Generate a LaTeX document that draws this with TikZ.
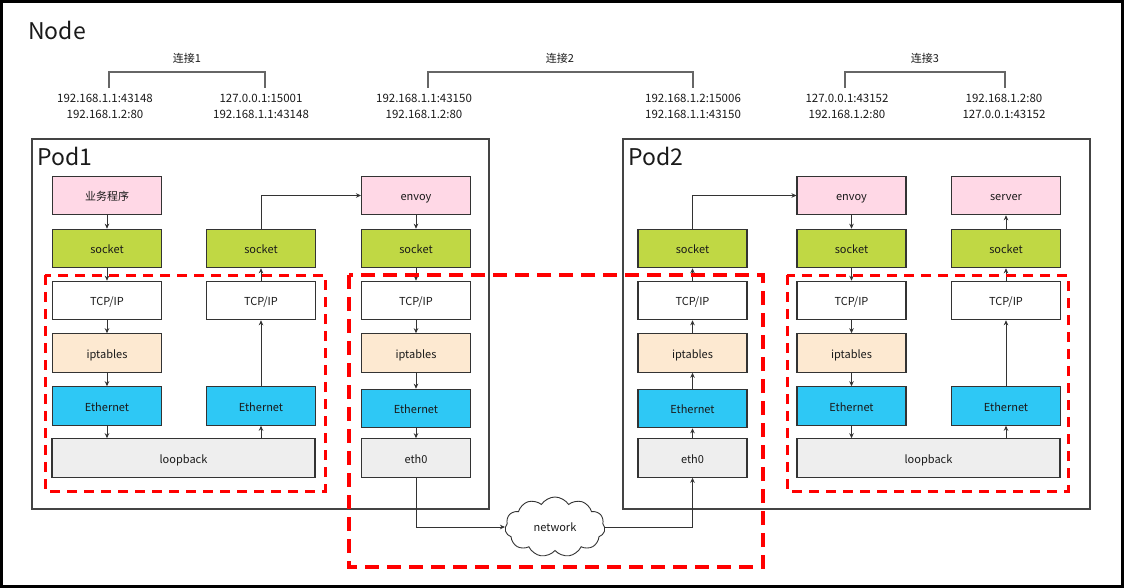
\documentclass[tikz,border=0pt]{standalone}
\usepackage{fontspec}
\setmainfont{Noto Sans CJK SC}
\usetikzlibrary{arrows.meta,shapes.symbols}
\definecolor{cpink}{HTML}{FFD8E6}
\definecolor{cgreen}{HTML}{C0D844}
\definecolor{cipt}{HTML}{FDE9D1}
\definecolor{ceth}{HTML}{2EC8F5}
\definecolor{clo}{HTML}{EEEEEE}
\definecolor{cline}{HTML}{333333}
\definecolor{ctext}{HTML}{1A1A1A}
\definecolor{cred}{HTML}{FF0000}
\definecolor{cpod}{HTML}{444444}
\definecolor{cbr}{HTML}{666666}
\begin{document}
\begin{tikzpicture}[x=1pt,y=-1pt,
  box/.style={draw=cline,line width=1.1pt,minimum width=109pt,minimum height=38.5pt,inner sep=0pt,text height=10pt,text depth=0pt,font=\fontsize{11}{13}\selectfont,text=ctext},
  app/.style={box,fill=cpink},
  sock/.style={box,fill=cgreen},
  tcp/.style={box,fill=white},
  ipt/.style={box,fill=cipt},
  eth/.style={box,fill=ceth},
  lo/.style={box,fill=clo},
  arr/.style={draw=cline,line width=0.9pt,-{Stealth[length=5pt,width=4.5pt]}},
  podbox/.style={draw=cpod,line width=2pt,fill=white,inner sep=0pt},
  big/.style={font=\fontsize{23}{26}\selectfont,text=ctext,inner sep=0pt,anchor=base west},
  addr/.style={font=\fontsize{11.5}{16}\selectfont,align=center,text=ctext,inner sep=0pt},
  conn/.style={font=\fontsize{11}{13}\selectfont,text=ctext,inner sep=0pt},
  bracket/.style={draw=cbr,line width=1.3pt},
  redbox/.style={draw=cred,line width=3pt,dash pattern=on 10pt off 7pt},
  redboxw/.style={draw=cred,line width=4pt,dash pattern=on 14pt off 8pt}
]
\fill[white] (0,0) rectangle (1124,588);
\useasboundingbox (0,0) rectangle (1124,588);
\draw[line width=3pt] (1.5,1.5) rectangle (1122.5,586.5);

\node[big] (nodelbl) at (28,40) {Node};

% connection labels and addresses
\node[conn] (c1) at (187,58) {连接1};
\node[conn] (c2) at (560,58) {连接2};
\node[conn] (c3) at (925,58) {连接3};

\node[addr] (a11) at (105,106.5) {192.168.1.1:43148\\192.168.1.2:80};
\node[addr] (a12) at (261,106.5) {127.0.0.1:15001\\192.168.1.1:43148};
\node[addr] (a21) at (424,106.5) {192.168.1.1:43150\\192.168.1.2:80};
\node[addr] (a22) at (693,106.5) {192.168.1.2:15006\\192.168.1.1:43150};
\node[addr] (a31) at (847,106.5) {127.0.0.1:43152\\192.168.1.2:80};
\node[addr] (a32) at (1004,106.5) {192.168.1.2:80\\127.0.0.1:43152};

\coordinate (b1l) at (109,88); \coordinate (b1r) at (265,88);
\coordinate (b2l) at (428,88); \coordinate (b2r) at (693,88);
\coordinate (b3l) at (845,88); \coordinate (b3r) at (1005,88);
\draw[bracket] (b1l) -- ++(0,-16) -| (b1r);
\draw[bracket] (b2l) -- ++(0,-16) -| (b2r);
\draw[bracket] (b3l) -- ++(0,-16) -| (b3r);

% pods
\node[podbox,minimum width=457pt,minimum height=370pt] (pod1) at (260.5,324) {};
\node[podbox,minimum width=467pt,minimum height=370pt] (pod2) at (856.5,324) {};
\node[big] (pod1lbl) at (37,166) {Pod1};
\node[big] (pod2lbl) at (628,166) {Pod2};

% Pod1 column A
\node[app]  (app1) at (107,195.5) {业务程序};
\node[sock] (s1a)  at (107,248.5) {socket};
\node[tcp]  (t1a)  at (107,300.5) {TCP/IP};
\node[ipt]  (i1a)  at (107,353)   {iptables};
\node[eth]  (e1a)  at (107,406)   {Ethernet};
\node[lo,minimum width=263pt] (lo1) at (183.5,458) {loopback};
% Pod1 column B
\node[sock] (s1b)  at (261,248.5) {socket};
\node[tcp]  (t1b)  at (261,300.5) {TCP/IP};
\node[eth]  (e1b)  at (261,406)   {Ethernet};
% Pod1 column C
\node[app]  (env1) at (416,195.5) {envoy};
\node[sock] (s1c)  at (416,248.5) {socket};
\node[tcp]  (t1c)  at (416,300.5) {TCP/IP};
\node[ipt]  (i1c)  at (416,353)   {iptables};
\node[eth]  (e1c)  at (416,408.5) {Ethernet};
\node[lo]   (eth01) at (416,458)  {eth0};

% Pod2 column A
\node[sock] (s2a)  at (692.5,248.5) {socket};
\node[tcp]  (t2a)  at (692.5,300.5) {TCP/IP};
\node[ipt]  (i2a)  at (692.5,353)   {iptables};
\node[eth]  (e2a)  at (692.5,408.5) {Ethernet};
\node[lo]   (eth02) at (692.5,458)  {eth0};
% Pod2 column B
\node[app]  (env2) at (851.5,195.5) {envoy};
\node[sock] (s2b)  at (851.5,248.5) {socket};
\node[tcp]  (t2b)  at (851.5,300.5) {TCP/IP};
\node[ipt]  (i2b)  at (851.5,353)   {iptables};
\node[eth]  (e2b)  at (851.5,406)   {Ethernet};
\node[lo,minimum width=263pt] (lo2) at (928.5,458) {loopback};
% Pod2 column C
\node[app]  (srv)  at (1006,195.5) {server};
\node[sock] (s2c)  at (1006,248.5) {socket};
\node[tcp]  (t2c)  at (1006,300.5) {TCP/IP};
\node[eth]  (e2c)  at (1006,406)   {Ethernet};

% network cloud
\node[cloud,cloud puffs=11,cloud puff arc=115,aspect=1.7,draw=cline,line width=0.9pt,fill=white,
      minimum width=100pt,minimum height=60pt,inner sep=0pt,text height=8pt,text depth=0pt,font=\fontsize{11}{13}\selectfont,text=ctext] (net) at (555,527) {network};

% Pod1 arrows
\draw[arr] (app1) -- (s1a);
\draw[arr] (s1a) -- (t1a);
\draw[arr] (t1a) -- (i1a);
\draw[arr] (i1a) -- (e1a);
\draw[arr] (e1a.south) -- (e1a.south |- lo1.north);
\draw[arr] (lo1.north -| e1b.south) -- (e1b.south);
\draw[arr] (e1b) -- (t1b);
\draw[arr] (t1b) -- (s1b);
\draw[arr] (s1b.north) |- (env1.west);
\draw[arr] (env1) -- (s1c);
\draw[arr] (s1c) -- (t1c);
\draw[arr] (t1c) -- (i1c);
\draw[arr] (i1c) -- (e1c);
\draw[arr] (e1c) -- (eth01);
\draw[arr] (eth01.south) |- (net.west);
\draw[arr] (net.east) -| (eth02.south);

% Pod2 arrows
\draw[arr] (eth02) -- (e2a);
\draw[arr] (e2a) -- (i2a);
\draw[arr] (i2a) -- (t2a);
\draw[arr] (t2a) -- (s2a);
\draw[arr] (s2a.north) |- (env2.west);
\draw[arr] (env2) -- (s2b);
\draw[arr] (s2b) -- (t2b);
\draw[arr] (t2b) -- (i2b);
\draw[arr] (i2b) -- (e2b);
\draw[arr] (e2b.south) -- (e2b.south |- lo2.north);
\draw[arr] (lo2.north -| e2c.south) -- (e2c.south);
\draw[arr] (e2c) -- (t2c);
\draw[arr] (t2c) -- (s2c);
\draw[arr] (s2c) -- (srv);

% red dashed groups
\draw[redbox] (45,275) rectangle (325,491);
\draw[redboxw] (349,275) rectangle (763,567);
\draw[redbox] (787,275) rectangle (1068,491);
\end{tikzpicture}
\end{document}
